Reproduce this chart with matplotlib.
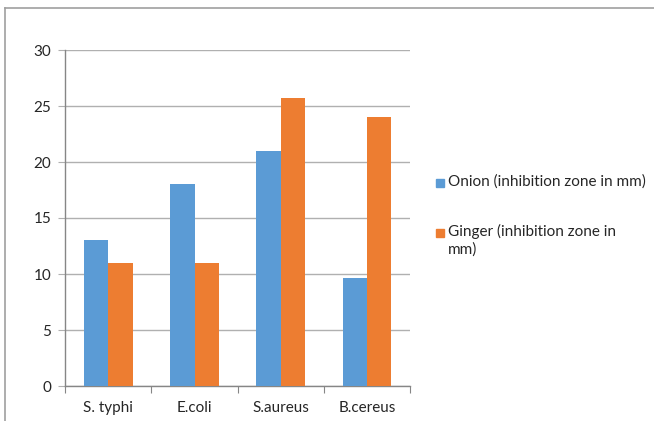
import matplotlib.pyplot as plt
from matplotlib.patches import Rectangle
from matplotlib.lines import Line2D
import numpy as np

plt.rcParams['font.family'] = ['Lato', 'DejaVu Sans']

# data
categories = ["S. typhi", "E.coli", "S.aureus", "B.cereus"]
onion = [13, 18, 21, 9.6]
ginger = [11, 11, 25.7, 24]
series_names = ["Onion (inhibition zone in mm)", "Ginger (inhibition zone in\nmm)"]
colors = ["#5B9BD5", "#ED7D31"]

W, H = 654, 421
fig = plt.figure(figsize=(W / 100, H / 100), dpi=100)
ax = fig.add_axes([65.3 / W, 1 - 386 / H, (410 - 65.3) / W, (386 - 50) / H])

x = np.arange(len(categories))
bw = 0.283
ax.bar(x - bw / 2, onion, bw, color=colors[0], zorder=3)
ax.bar(x + bw / 2, ginger, bw, color=colors[1], zorder=3)

ax.set_xlim(-0.5, len(categories) - 0.5)
ax.set_ylim(0, 30)
ax.set_yticks(range(0, 31, 5))
ax.yaxis.grid(True, color="#b0b0b0", linewidth=1, zorder=0)
ax.set_axisbelow(True)

# category labels between boundary ticks
ax.set_xticks(np.arange(-0.5, len(categories), 1))
ax.set_xticklabels([])
ax.set_xticks(x, minor=True)
ax.set_xticklabels(categories, minor=True)
ax.tick_params(axis="x", which="minor", length=0, pad=11, labelsize=11, labelcolor="#262626")
ax.tick_params(axis="x", which="major", length=5, color="#868686")
ax.tick_params(axis="y", length=5, color="#b0b0b0", pad=5, labelsize=11, labelcolor="#262626")

for s in ["top", "right"]:
    ax.spines[s].set_visible(False)
for s in ["left", "bottom"]:
    ax.spines[s].set_color("#868686")
    ax.spines[s].set_linewidth(1)

# legend drawn by hand, Excel style
leg_y = [183, 232.7]
for name, c, yy in zip(series_names, colors, leg_y):
    fig.patches.append(Rectangle((436 / W, 1 - (yy + 4) / H), 8 / W, 8 / H,
                                 transform=fig.transFigure, color=c))
    fig.text(448 / W, 1 - (yy - 8.5) / H, name, ha="left", va="top", fontsize=11,
             color="#262626", linespacing=1.3)

# outer frame
fig.add_artist(Line2D([5 / W, 1], [1 - 8 / H, 1 - 8 / H], color="#a0a0a0", linewidth=1.2))
fig.add_artist(Line2D([5 / W, 5 / W], [0, 1 - 8 / H], color="#a0a0a0", linewidth=1.2))

fig.savefig("out.png", dpi=100)
